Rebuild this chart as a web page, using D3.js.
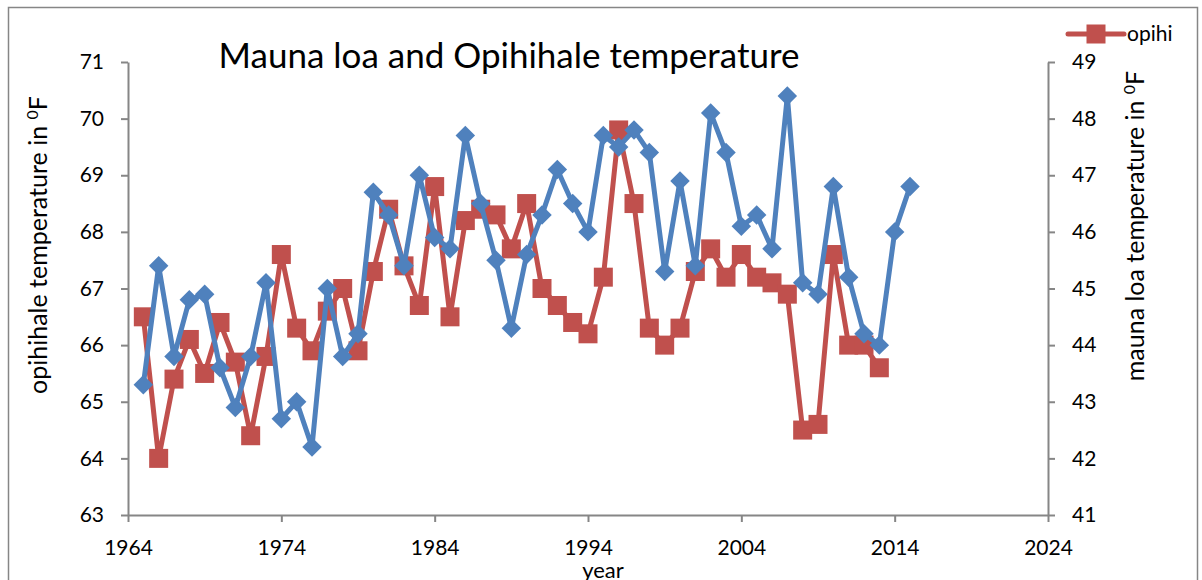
<!DOCTYPE html>
<html>
<head>
<meta charset="utf-8">
<script src="https://cdn.jsdelivr.net/npm/d3@7"></script>
<style>
  html, body { margin: 0; padding: 0; background: #fff; }
  svg { display: block; font-family: Lato, "Open Sans", sans-serif; }
</style>
</head>
<body>
<svg id="chart" width="1202" height="580"></svg>
<script>
// Opihihale (left axis) and Mauna Loa (right axis) yearly temperatures, °F
const opihiYears = d3.range(1965, 2014);
const opihiTemps = [
  66.5, 64.0, 65.4, 66.1, 65.5, 66.4, 65.7, 64.4, 65.8, 67.6,
  66.3, 65.9, 66.6, 67.0, 65.9, 67.3, 68.4, 67.4, 66.7, 68.8,
  66.5, 68.2, 68.4, 68.3, 67.7, 68.5, 67.0, 66.7, 66.4, 66.2,
  67.2, 69.8, 68.5, 66.3, 66.0, 66.3, 67.3, 67.7, 67.2, 67.6,
  67.2, 67.1, 66.9, 64.5, 64.6, 67.6, 66.0, 66.0, 65.6
];
const maunaYears = d3.range(1965, 2016);
const maunaTemps = [
  43.3, 45.4, 43.8, 44.8, 44.9, 43.6, 42.9, 43.8, 45.1, 42.7,
  43.0, 42.2, 45.0, 43.8, 44.2, 46.7, 46.3, 45.4, 47.0, 45.9,
  45.7, 47.7, 46.5, 45.5, 44.3, 45.6, 46.3, 47.1, 46.5, 46.0,
  47.7, 47.5, 47.8, 47.4, 45.3, 46.9, 45.4, 48.1, 47.4, 46.1,
  46.3, 45.7, 48.4, 45.1, 44.9, 46.8, 45.2, 44.2, 44.0, 46.0,
  46.8
];
const xTicks = [1964, 1974, 1984, 1994, 2004, 2014, 2024];
const leftTicks = [63, 64, 65, 66, 67, 68, 69, 70, 71];
const rightTicks = [41, 42, 43, 44, 45, 46, 47, 48, 49];

const RED = "#C0504D", BLUE = "#4F81BD", AXIS = "#868686";

const svg = d3.select("#chart");

// outer chart frame
svg.append("rect")
  .attr("x", 8.5).attr("y", 7.5)
  .attr("width", 1189).attr("height", 600)
  .attr("fill", "none").attr("stroke", AXIS).attr("stroke-width", 1.5);

const plot = { left: 128, right: 1048, top: 62, bottom: 515 };

const x = d3.scaleLinear().domain([1964, 2024]).range([plot.left, plot.right]);
const yL = d3.scaleLinear().domain([63, 71]).range([plot.bottom, plot.top]);
const yR = d3.scaleLinear().domain([41, 49]).range([plot.bottom, plot.top]);

function styleAxis(g) {
  g.select(".domain").attr("stroke", AXIS).attr("stroke-width", 2);
  g.selectAll(".tick line").attr("stroke", AXIS).attr("stroke-width", 2);
  g.selectAll(".tick text").attr("fill", "#000")
    .style("font-size", "21px").style("font-family", "Lato, 'Open Sans', sans-serif");
}

// bottom axis
svg.append("g")
  .attr("transform", `translate(0,${plot.bottom})`)
  .call(d3.axisBottom(x).tickValues(xTicks).tickFormat(d3.format("d"))
    .tickSize(7).tickSizeOuter(0).tickPadding(18))
  .call(styleAxis);

// left axis
svg.append("g")
  .attr("transform", `translate(${plot.left},0)`)
  .call(d3.axisLeft(yL).tickValues(leftTicks).tickFormat(d3.format("d"))
    .tickSize(7).tickSizeOuter(0).tickPadding(17))
  .call(styleAxis);

// right axis
svg.append("g")
  .attr("transform", `translate(${plot.right},0)`)
  .call(d3.axisRight(yR).tickValues(rightTicks).tickFormat(d3.format("d"))
    .tickSize(7).tickSizeOuter(0).tickPadding(17))
  .call(styleAxis);

// title
svg.append("text")
  .attr("x", 509).attr("y", 68)
  .attr("text-anchor", "middle")
  .style("font-size", "35px")
  .text("Mauna loa and Opihihale temperature");

// axis titles
function axisTitle(tx, ty, rot, label) {
  const t = svg.append("text")
    .attr("transform", `translate(${tx},${ty}) rotate(${rot})`)
    .attr("text-anchor", "middle")
    .style("font-size", "25px");
  t.append("tspan").text(label);
  t.append("tspan").attr("dy", -9).style("font-size", "16px").text("0");
  t.append("tspan").attr("dy", 9).text("F");
}
axisTitle(47, 245, -90, "opihihale temperature in ");
axisTitle(1144, 226, -90, "mauna loa temperature in ");

svg.append("text")
  .attr("x", 603).attr("y", 578)
  .attr("text-anchor", "middle")
  .style("font-size", "22px")
  .text("year");

// series
const opihi = opihiYears.map((yr, i) => ({ yr, v: opihiTemps[i] }));
const mauna = maunaYears.map((yr, i) => ({ yr, v: maunaTemps[i] }));

const lineL = d3.line().x(d => x(d.yr)).y(d => yL(d.v));
const lineR = d3.line().x(d => x(d.yr)).y(d => yR(d.v));

const sq = 19;
svg.append("path").datum(opihi)
  .attr("d", lineL).attr("fill", "none")
  .attr("stroke", RED).attr("stroke-width", 5).attr("stroke-linejoin", "round");
svg.append("g").selectAll("rect").data(opihi).join("rect")
  .attr("x", d => x(d.yr) - sq / 2).attr("y", d => yL(d.v) - sq / 2)
  .attr("width", sq).attr("height", sq).attr("fill", RED);

const diamond = d3.symbol().type(d3.symbolSquare).size(190);
svg.append("path").datum(mauna)
  .attr("d", lineR).attr("fill", "none")
  .attr("stroke", BLUE).attr("stroke-width", 5).attr("stroke-linejoin", "round");
svg.append("g").selectAll("path").data(mauna).join("path")
  .attr("d", diamond)
  .attr("transform", d => `translate(${x(d.yr)},${yR(d.v)}) rotate(45)`)
  .attr("fill", BLUE);

// legend
const lg = svg.append("g").attr("transform", "translate(1068,34)");
lg.append("line").attr("x1", 0).attr("x2", 56).attr("y1", 0).attr("y2", 0)
  .attr("stroke", RED).attr("stroke-width", 5).attr("stroke-linecap", "round");
lg.append("rect").attr("x", 28 - sq / 2).attr("y", -sq / 2)
  .attr("width", sq).attr("height", sq).attr("fill", RED);
lg.append("text").attr("x", 59).attr("y", 7)
  .style("font-size", "21px").text("opihi");
</script>
</body>
</html>
